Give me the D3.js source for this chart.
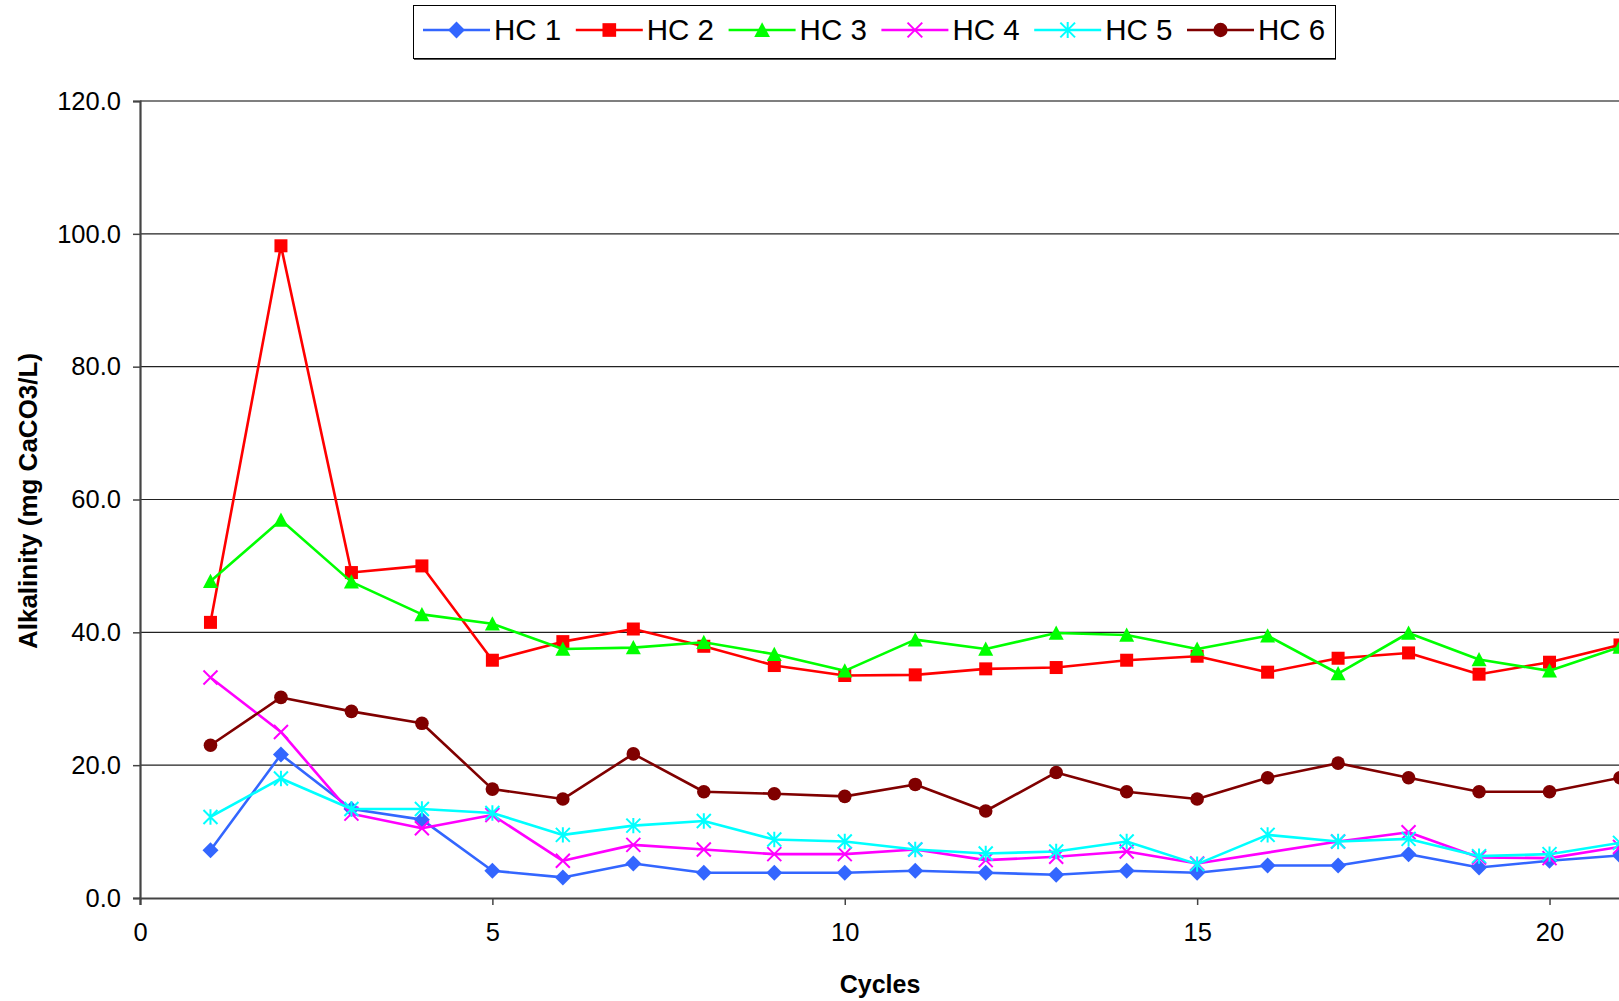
<!DOCTYPE html>
<html>
<head>
<meta charset="utf-8">
<script src="https://cdn.jsdelivr.net/npm/d3@7"></script>
<style>
  html, body { margin: 0; padding: 0; background: #fff; overflow: hidden; }
  svg { display: block; font-family: "Liberation Sans", Arial, sans-serif; }
</style>
</head>
<body>
<svg id="chart" width="1619" height="1001"></svg>
<script>
const cycles = [1,2,3,4,5,6,7,8,9,10,11,12,13,14,15,16,17,18,19,20,21];
const hc1 = [7.2,21.6,13.4,11.8,4.1,3.1,5.2,3.8,3.8,3.8,4.1,3.8,3.5,4.1,3.8,4.9,4.9,6.6,4.6,5.6,6.4];
const hc2 = [41.5,98.2,49.0,50.0,35.8,38.6,40.5,37.9,35.0,33.5,33.6,34.5,34.7,35.8,36.4,34.0,36.1,36.9,33.7,35.5,38.1];
const hc3 = [47.7,56.9,47.6,42.7,41.3,37.5,37.7,38.5,36.7,34.2,38.9,37.5,39.9,39.6,37.5,39.5,33.8,39.9,35.9,34.2,37.8];
const hc4 = [33.2,25.0,12.7,10.5,12.5,5.6,8.0,7.3,6.6,6.6,7.3,5.7,6.2,7.0,5.2,null,8.5,9.9,6.1,6.0,7.7];
const hc5 = [12.2,18.0,13.4,13.4,12.8,9.5,10.9,11.6,8.8,8.5,7.3,6.7,7.0,8.5,5.1,9.5,8.5,8.9,6.3,6.6,8.3];
const hc6 = [23.0,30.2,28.1,26.3,16.4,14.9,21.7,16.0,15.7,15.3,17.1,13.1,18.9,16.0,14.9,18.1,20.3,18.1,16.0,16.0,18.1];
const seriesNames = ["HC 1","HC 2","HC 3","HC 4","HC 5","HC 6"];
const yTicks = [0,20,40,60,80,100,120];
const xTicks = [0,5,10,15,20];
const yTitle = "Alkalinity (mg CaCO3/L)";
const xTitle = "Cycles";

const colors = ["#3366FF","#FF0000","#00FF00","#FF00FF","#00FFFF","#800000"];
const markers = ["diamond","square","triangle","x","star","circle"];
const seriesValues = [hc1,hc2,hc3,hc4,hc5,hc6];

const svg = d3.select("#chart");
const x = d3.scaleLinear().domain([0, 21]).range([140, 1620]);
const y = d3.scaleLinear().domain([0, 120]).range([898, 101]);

// gridlines
svg.append("g").selectAll("line").data(yTicks.filter(t => t > 0)).join("line")
  .attr("x1", 140).attr("x2", 1619)
  .attr("y1", d => y(d)).attr("y2", d => y(d))
  .attr("stroke", d => d === 120 ? "#7f7f7f" : "#222")
  .attr("stroke-width", d => d === 120 ? 2 : 1.2);

// y axis
const yAxis = svg.append("g").attr("transform", "translate(140,0)")
  .call(d3.axisLeft(y).tickValues(yTicks).tickFormat(d3.format(".1f")).tickSize(7).tickPadding(12));
yAxis.select(".domain").attr("stroke", "#444").attr("stroke-width", 2.2);
yAxis.selectAll(".tick line").attr("stroke", "#444").attr("stroke-width", 1.5);
yAxis.selectAll(".tick text").attr("font-size", 25.5).attr("fill", "#000")
  .attr("font-family", "Liberation Sans, Arial, sans-serif");

// x axis
const xAxis = svg.append("g").attr("transform", "translate(0,898)")
  .call(d3.axisBottom(x).tickValues(xTicks).tickFormat(d3.format("d")).tickSize(7).tickPadding(18));
xAxis.select(".domain").attr("stroke", "#444").attr("stroke-width", 2.2);
xAxis.selectAll(".tick line").attr("stroke", "#444").attr("stroke-width", 1.5);
xAxis.selectAll(".tick text").attr("font-size", 25.5).attr("fill", "#000")
  .attr("font-family", "Liberation Sans, Arial, sans-serif");

// axis titles
svg.append("text")
  .attr("transform", "translate(37,501) rotate(-90)")
  .attr("text-anchor", "middle")
  .attr("font-size", 26).attr("font-weight", "bold")
  .text(yTitle);
svg.append("text")
  .attr("x", 880).attr("y", 993)
  .attr("text-anchor", "middle")
  .attr("font-size", 25).attr("font-weight", "bold")
  .text(xTitle);

// marker drawing
function drawMarker(g, type, color, cx, cy, s) {
  s = s || 1;
  if (type === "diamond") {
    const h = 8 * s;
    g.append("path").attr("d", `M${cx},${cy - h}L${cx + h},${cy}L${cx},${cy + h}L${cx - h},${cy}Z`)
      .attr("fill", color);
  } else if (type === "square") {
    const h = 6.5 * s;
    g.append("rect").attr("x", cx - h).attr("y", cy - h).attr("width", 2 * h).attr("height", 2 * h)
      .attr("fill", color);
  } else if (type === "triangle") {
    const h = 7.5 * s;
    g.append("path").attr("d", `M${cx},${cy - h}L${cx + h},${cy + h * 0.9}L${cx - h},${cy + h * 0.9}Z`)
      .attr("fill", color);
  } else if (type === "circle") {
    g.append("circle").attr("cx", cx).attr("cy", cy).attr("r", 6.8 * s).attr("fill", color);
  } else if (type === "x") {
    const h = 7 * s;
    g.append("path").attr("d", `M${cx - h},${cy - h}L${cx + h},${cy + h}M${cx - h},${cy + h}L${cx + h},${cy - h}`)
      .attr("stroke", color).attr("stroke-width", 2).attr("fill", "none");
  } else if (type === "star") {
    const h = 7 * s;
    g.append("path").attr("d", `M${cx - h},${cy - h}L${cx + h},${cy + h}M${cx - h},${cy + h}L${cx + h},${cy - h}M${cx},${cy - h * 1.1}L${cx},${cy + h * 1.1}`)
      .attr("stroke", color).attr("stroke-width", 2).attr("fill", "none");
  }
}

const line = d3.line().x(d => x(d.c)).y(d => y(d.v));
const plot = svg.append("g");
seriesValues.forEach((vals, i) => {
  const pts = cycles.map((c, j) => ({c: c, v: vals[j]})).filter(d => d.v !== null);
  const g = plot.append("g");
  g.append("path").datum(pts).attr("d", line)
    .attr("fill", "none").attr("stroke", colors[i]).attr("stroke-width", 2.6)
    .attr("stroke-linejoin", "round");
  pts.forEach(d => drawMarker(g, markers[i], colors[i], x(d.c), y(d.v)));
});

// legend
const legend = svg.append("g");
legend.append("rect").attr("x", 413.5).attr("y", 5.5).attr("width", 922).attr("height", 53)
  .attr("fill", "#fff").attr("stroke", "#000").attr("stroke-width", 1);
legend.append("line").attr("x1", 414).attr("x2", 1336).attr("y1", 59.5).attr("y2", 59.5)
  .attr("stroke", "#555").attr("stroke-width", 1);
seriesNames.forEach((name, i) => {
  const x0 = 423 + i * 152.8;
  const cy = 30;
  legend.append("line").attr("x1", x0).attr("x2", x0 + 67).attr("y1", cy).attr("y2", cy)
    .attr("stroke", colors[i]).attr("stroke-width", 2.6);
  drawMarker(legend, markers[i], colors[i], x0 + 33.5, cy, 1.05);
  legend.append("text").attr("x", x0 + 71).attr("y", 40)
    .attr("font-size", 29.5).attr("fill", "#000").text(name);
});
</script>
</body>
</html>
